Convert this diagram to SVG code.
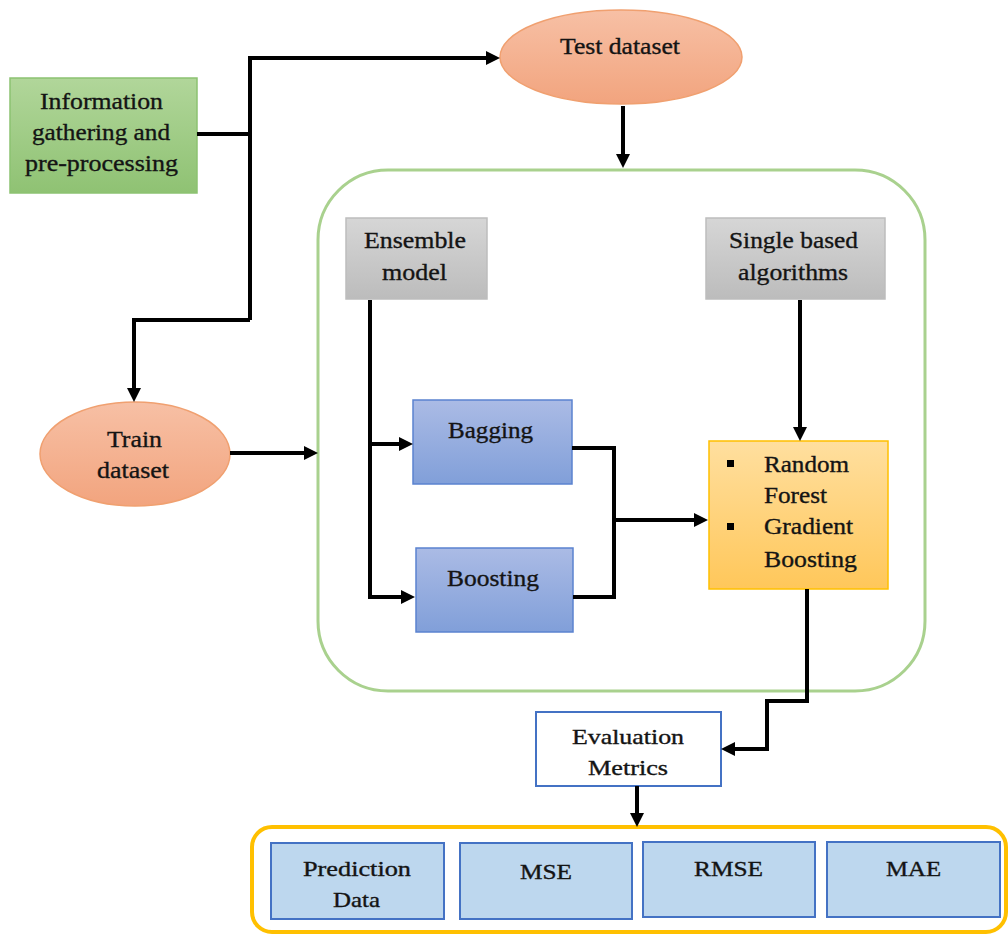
<svg xmlns="http://www.w3.org/2000/svg" width="1008" height="935" viewBox="0 0 1008 935" font-family="'Liberation Serif', 'Times New Roman', Times, serif">
<defs>
<linearGradient id="gGreen" x1="0" y1="0" x2="0" y2="1"><stop offset="0" stop-color="#b1d69a"/><stop offset="1" stop-color="#8fc273"/></linearGradient>
<linearGradient id="gSalmon" x1="0" y1="0" x2="0" y2="1"><stop offset="0" stop-color="#f7c0a5"/><stop offset="1" stop-color="#f2a47e"/></linearGradient>
<linearGradient id="gGray" x1="0" y1="0" x2="0" y2="1"><stop offset="0" stop-color="#d6d6d6"/><stop offset="1" stop-color="#bcbcbc"/></linearGradient>
<linearGradient id="gBlue" x1="0" y1="0" x2="0" y2="1"><stop offset="0" stop-color="#abbbe5"/><stop offset="1" stop-color="#819fd9"/></linearGradient>
<linearGradient id="gOrange" x1="0" y1="0" x2="0" y2="1"><stop offset="0" stop-color="#ffdf9f"/><stop offset="1" stop-color="#ffc75a"/></linearGradient>
<marker id="arr" markerUnits="userSpaceOnUse" markerWidth="14" markerHeight="14" refX="3" refY="7" orient="auto" viewBox="0 0 14 14">
<path d="M0,0 L14,7 L0,14 z" fill="#000"/>
</marker>
</defs>
<style>
text{fill:#141414;stroke:#141414;stroke-width:0.35px;}
.t24{font-size:24px;}
.t23{font-size:23px;}
.t21{font-size:21px;}
.conn path{fill:none;stroke:#000;stroke-width:4;stroke-linejoin:miter;}
.metric{fill:#bdd7ee;stroke:#4472c4;stroke-width:2;}
.blue{fill:url(#gBlue);stroke:#5b83cf;stroke-width:1.5;}
.gray{fill:url(#gGray);stroke:#bdbdbd;stroke-width:1.5;}
.salmon{fill:url(#gSalmon);stroke:#f0a070;stroke-width:1.5;}
</style>
<rect width="1008" height="935" fill="#ffffff"/>

<g id="ensemble-container">
<rect x="318" y="170" width="607" height="521" rx="70" ry="70" fill="none" stroke="#a9d18e" stroke-width="3"/>
</g>
<g id="metrics-container">
<rect x="252" y="827" width="754" height="105" rx="20" ry="20" fill="none" stroke="#ffc000" stroke-width="4"/>
</g>

<g id="info">
<rect x="10" y="78" width="187" height="115" fill="url(#gGreen)" stroke="#8cc271" stroke-width="1.5"/>
<text class="t24" x="40" y="109" textLength="123" lengthAdjust="spacingAndGlyphs">Information</text>
<text class="t24" x="32" y="140" textLength="138" lengthAdjust="spacingAndGlyphs">gathering and</text>
<text class="t24" x="25" y="171" textLength="153" lengthAdjust="spacingAndGlyphs">pre-processing</text>
</g>

<g id="test">
<ellipse cx="621" cy="57" rx="121" ry="47" class="salmon"/>
<text class="t24" x="560" y="54" textLength="120" lengthAdjust="spacingAndGlyphs">Test dataset</text>
</g>

<g id="train">
<ellipse cx="135" cy="454" rx="95" ry="52" class="salmon"/>
<text class="t24" x="107" y="447" textLength="55" lengthAdjust="spacingAndGlyphs">Train</text>
<text class="t24" x="97" y="478" textLength="72" lengthAdjust="spacingAndGlyphs">dataset</text>
</g>

<g id="ensemble">
<rect x="346" y="218" width="141" height="81" class="gray"/>
<text class="t24" x="364" y="248" textLength="102" lengthAdjust="spacingAndGlyphs">Ensemble</text>
<text class="t24" x="382" y="280" textLength="65" lengthAdjust="spacingAndGlyphs">model</text>
</g>

<g id="single">
<rect x="706" y="218" width="179" height="81" class="gray"/>
<text class="t24" x="729" y="248" textLength="129" lengthAdjust="spacingAndGlyphs">Single based</text>
<text class="t24" x="738" y="280" textLength="110" lengthAdjust="spacingAndGlyphs">algorithms</text>
</g>

<g id="bagging">
<rect x="413" y="400" width="159" height="84" class="blue"/>
<text class="t23" x="448" y="438" textLength="85" lengthAdjust="spacingAndGlyphs">Bagging</text>
</g>

<g id="boosting">
<rect x="416" y="548" width="157" height="84" class="blue"/>
<text class="t23" x="447" y="586" textLength="92" lengthAdjust="spacingAndGlyphs">Boosting</text>
</g>

<g id="algorithms">
<rect x="709" y="441" width="179" height="148" fill="url(#gOrange)" stroke="#ffc000" stroke-width="1.5"/>
<rect x="727" y="460" width="7" height="7" fill="#000"/>
<rect x="727" y="523" width="7" height="7" fill="#000"/>
<text class="t23" x="764" y="472" textLength="85" lengthAdjust="spacingAndGlyphs">Random</text>
<text class="t23" x="764" y="503" textLength="63" lengthAdjust="spacingAndGlyphs">Forest</text>
<text class="t23" x="764" y="534" textLength="89" lengthAdjust="spacingAndGlyphs">Gradient</text>
<text class="t23" x="764" y="567" textLength="93" lengthAdjust="spacingAndGlyphs">Boosting</text>
</g>

<g id="evaluation">
<rect x="536" y="712" width="185" height="74" fill="#ffffff" stroke="#4472c4" stroke-width="2"/>
<text class="t21" x="572" y="744" textLength="112" lengthAdjust="spacingAndGlyphs">Evaluation</text>
<text class="t21" x="588" y="775" textLength="80" lengthAdjust="spacingAndGlyphs">Metrics</text>
</g>

<g id="prediction">
<rect x="271" y="843" width="173" height="76" class="metric"/>
<text class="t21" x="303" y="876" textLength="108" lengthAdjust="spacingAndGlyphs">Prediction</text>
<text class="t21" x="333" y="907" textLength="47" lengthAdjust="spacingAndGlyphs">Data</text>
</g>
<g id="mse">
<rect x="460" y="843" width="172" height="76" class="metric"/>
<text class="t21" x="520" y="879" textLength="52" lengthAdjust="spacingAndGlyphs">MSE</text>
</g>
<g id="rmse">
<rect x="643" y="842" width="172" height="75" class="metric"/>
<text class="t21" x="694" y="876" textLength="69" lengthAdjust="spacingAndGlyphs">RMSE</text>
</g>
<g id="mae">
<rect x="827" y="842" width="173" height="75" class="metric"/>
<text class="t21" x="886" y="876" textLength="55" lengthAdjust="spacingAndGlyphs">MAE</text>
</g>

<g id="connectors" class="conn">
<path d="M197,134 H250"/>
<path d="M250,320 V58 H489" marker-end="url(#arr)"/>
<path d="M250,320 H134 V391" marker-end="url(#arr)"/>
<path d="M623,106 V157" marker-end="url(#arr)"/>
<path d="M230,453 H307" marker-end="url(#arr)"/>
<path d="M370,300 V597 H404" marker-end="url(#arr)"/>
<path d="M370,444 H402" marker-end="url(#arr)"/>
<path d="M572,448 H614 V597 H573"/>
<path d="M614,520 H697" marker-end="url(#arr)"/>
<path d="M800,300 V430" marker-end="url(#arr)"/>
<path d="M807,589 V701 H767 V749 H732" marker-end="url(#arr)"/>
<path d="M637,786 V816" marker-end="url(#arr)"/>
</g>
</svg>
